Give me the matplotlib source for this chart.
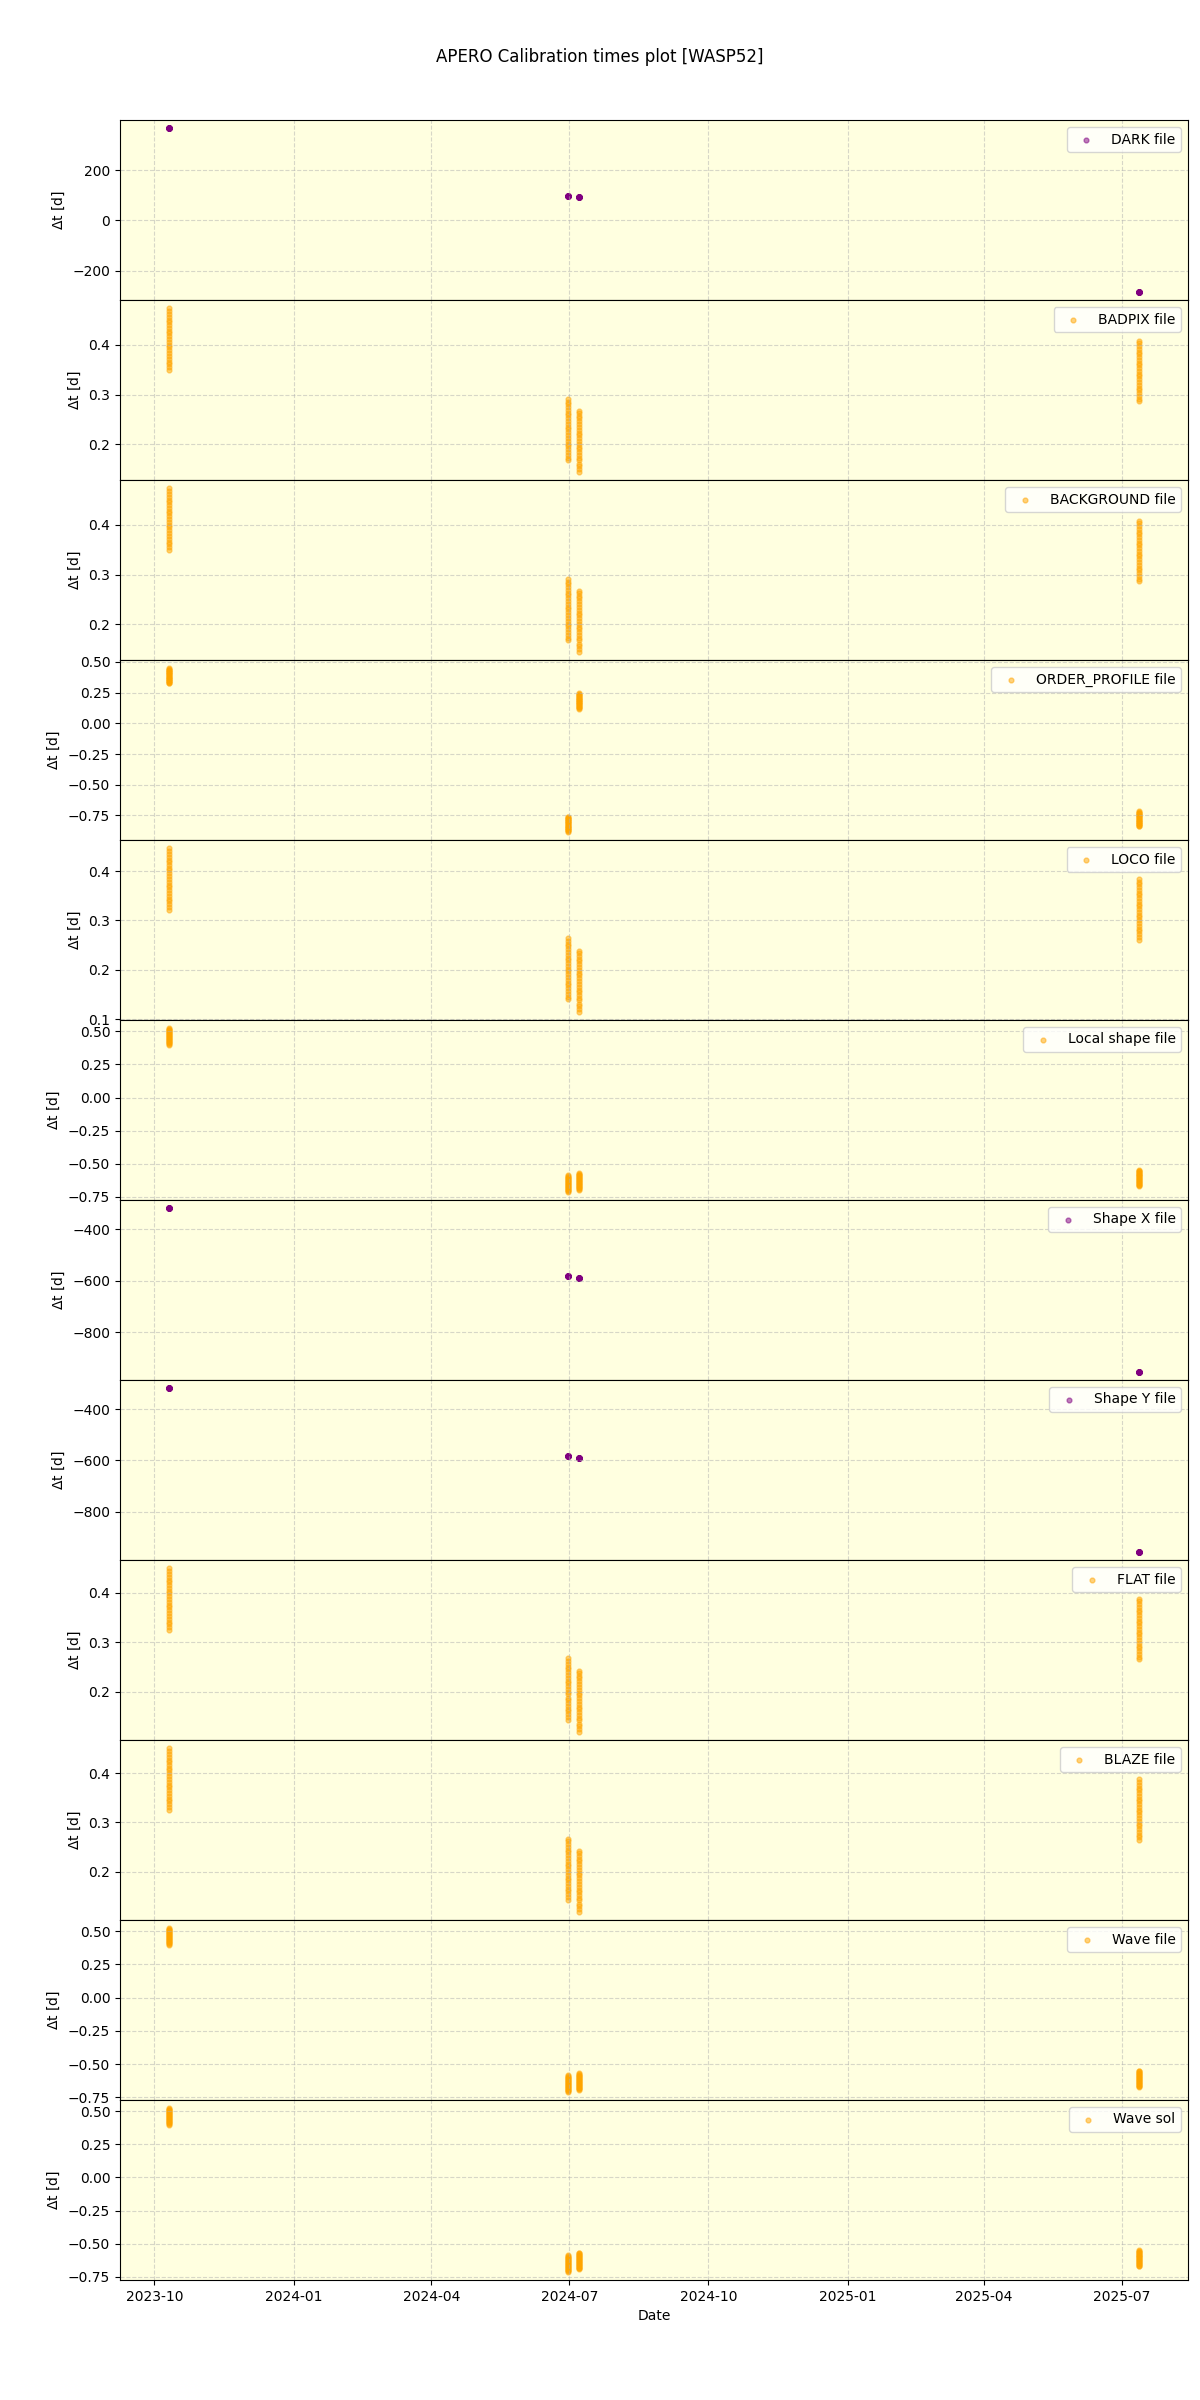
import numpy as np
import pandas as pd
import matplotlib
matplotlib.use('Agg')
import matplotlib.pyplot as plt

# calibration file types, in the order they are plotted
file_types = ['DARK file', 'BADPIX file', 'BACKGROUND file', 'ORDER_PROFILE file',
              'LOCO file', 'Local shape file', 'Shape X file', 'Shape Y file',
              'FLAT file', 'BLAZE file', 'Wave file', 'Wave sol']
file_colors = ['purple', 'orange', 'orange', 'orange',
               'orange', 'orange', 'purple', 'purple',
               'orange', 'orange', 'orange', 'orange']

# start of each observing night (UTC) and minutes of each exposure from that start
night_start = ['2023-10-10 07:00', '2024-06-30 02:00', '2024-07-07 09:00', '2025-07-12 14:00']
night1_min = [0, 8, 16, 24, 32, 41, 49, 57, 65, 73, 81, 89, 97, 106, 114, 122, 130, 138, 146, 154, 162, 170, 179]
night2_min = [0, 8, 16, 25, 33, 41, 49, 57, 65, 74, 82, 90, 98, 106, 114, 122, 131, 139, 147, 155, 163, 171, 179]
night3_min = [0, 8, 16, 24, 33, 41, 49, 57, 65, 73, 82, 90, 98, 106, 114, 122, 130, 139, 147, 155, 163, 171, 178]
night4_min = [0, 8, 16, 24, 32, 40, 48, 56, 65, 73, 81, 89, 97, 105, 113, 121, 129, 137, 145, 153, 161, 169, 177]

# delta t [d] (observation - calibration) of the first exposure of each night
dt_dark = [366, 97, 92, -283]
dt_badpix = [0.350, 0.167, 0.144, 0.286]
dt_background = [0.350, 0.167, 0.144, 0.286]
dt_order_profile = [0.325, -0.883, 0.120, -0.839]
dt_loco = [0.322, 0.140, 0.115, 0.261]
dt_local_shape = [0.400, -0.712, -0.696, -0.669]
dt_shape_x = [-319, -584, -589, -954]
dt_shape_y = [-318, -584, -589, -957]
dt_flat = [0.325, 0.143, 0.119, 0.265]
dt_blaze = [0.326, 0.143, 0.119, 0.264]
dt_wave_file = [0.397, -0.709, -0.694, -0.673]
dt_wave_sol = [0.400, -0.714, -0.694, -0.673]

dt_all = [dt_dark, dt_badpix, dt_background, dt_order_profile, dt_loco, dt_local_shape,
          dt_shape_x, dt_shape_y, dt_flat, dt_blaze, dt_wave_file, dt_wave_sol]
nights_min = [night1_min, night2_min, night3_min, night4_min]

fig, axes = plt.subplots(len(file_types), 1, figsize=(12, 24), sharex=True)
plt.subplots_adjust(left=0.1, right=0.99, top=0.95, bottom=0.05, hspace=0)

for ax, name, color, dts in zip(axes, file_types, file_colors, dt_all):
    dates = []
    values = []
    for start, mins, dt0 in zip(night_start, nights_min, dts):
        mins = np.array(mins)
        dates.extend(pd.Timestamp(start) + pd.to_timedelta(mins, unit='min'))
        values.extend(dt0 + mins / 1440.0)
    ax.scatter(dates, values, s=12, color=color, alpha=0.5, label=name)
    ax.set_facecolor('lightyellow')
    ax.grid(True, linestyle='--', alpha=0.5)
    ax.set_ylabel(r'$\Delta$t [d]')
    ax.legend(loc='upper right')

axes[-1].set_xlabel('Date')
fig.suptitle('APERO Calibration times plot [WASP52]')
plt.savefig('out.png', dpi=100)
